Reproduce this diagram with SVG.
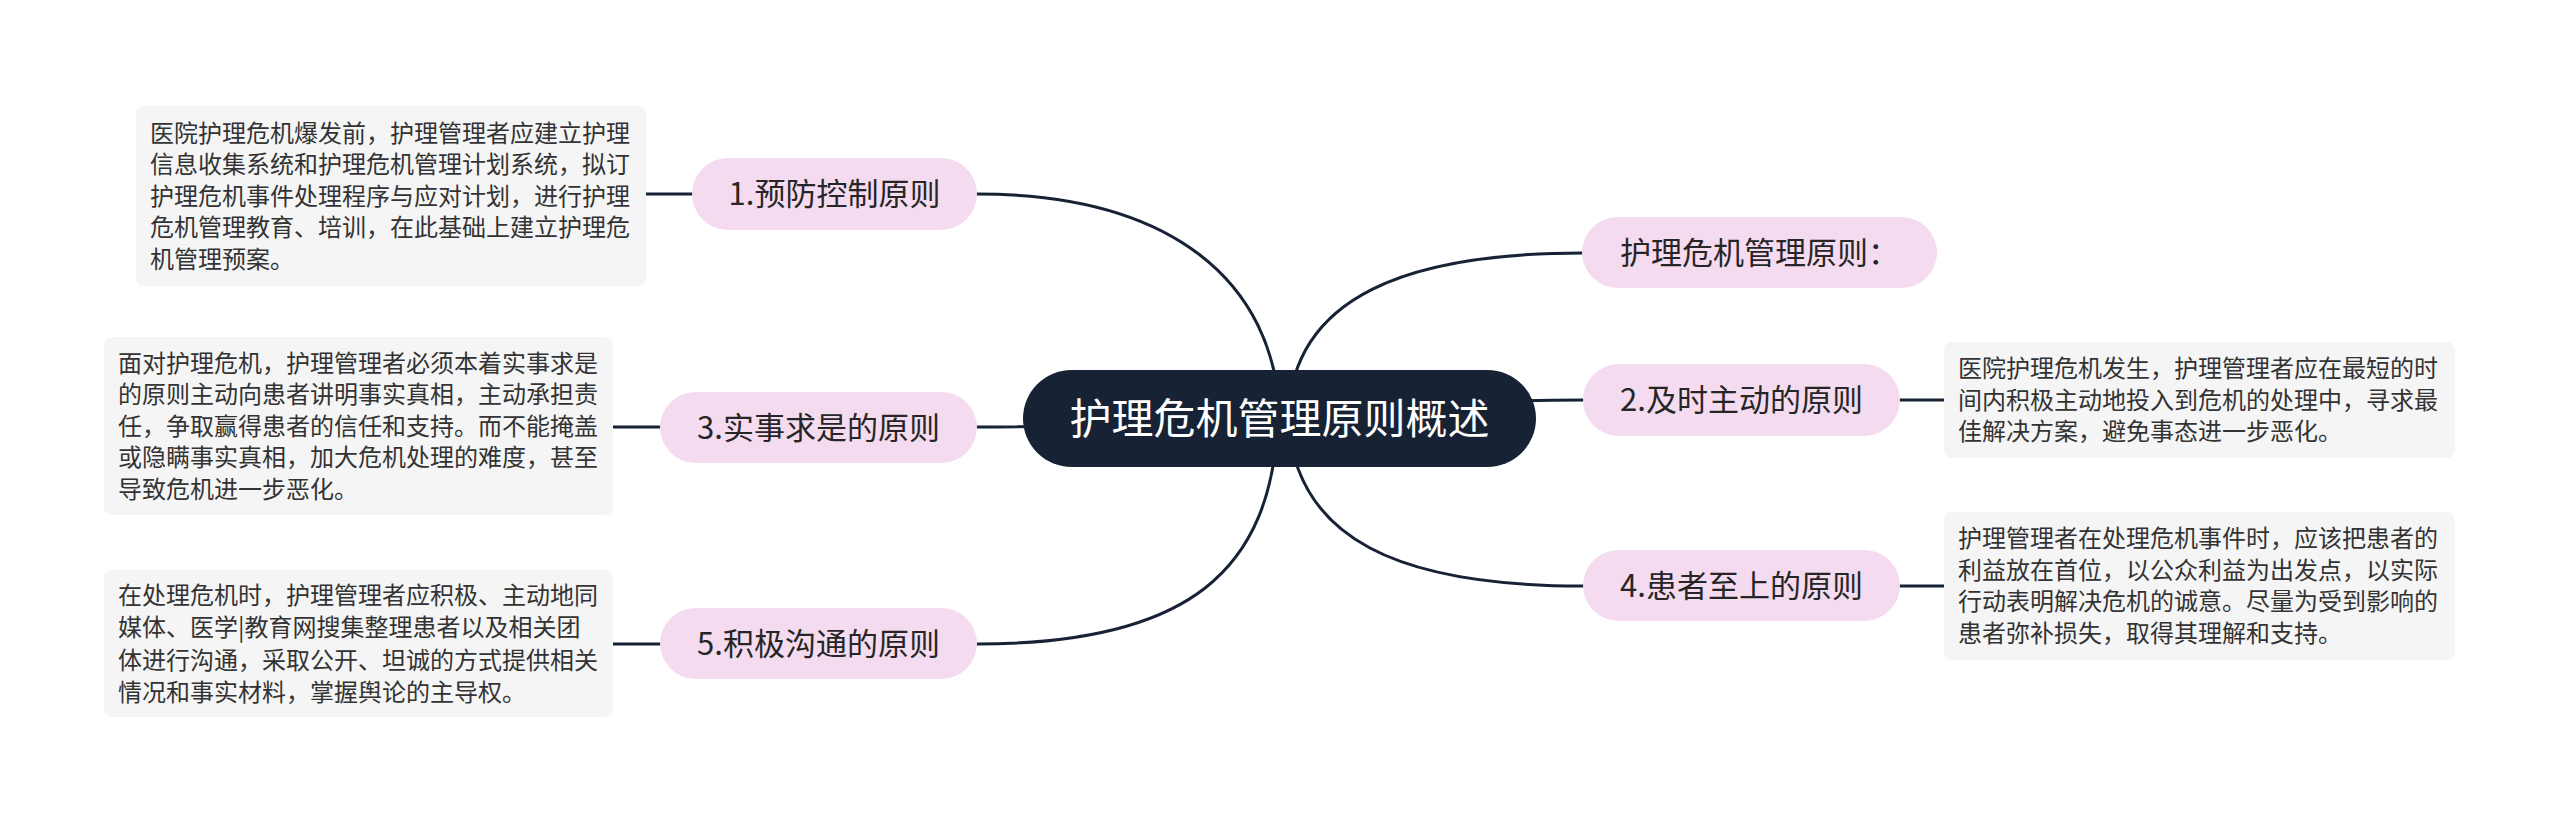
<svg xmlns="http://www.w3.org/2000/svg" width="2560" height="823" viewBox="0 0 2560 823">
<style>
.ln{fill:none;stroke:#172335;stroke-width:3;stroke-linecap:round}
.root{fill:#172335}
.rootT{fill:#ffffff;font-family:"Noto Sans CJK SC","Noto Sans",sans-serif;font-size:42px;text-anchor:middle}
.pill{fill:#f5dbef}
.pillT{fill:#262626;font-family:"Noto Sans CJK SC","Noto Sans",sans-serif;font-size:31px;text-anchor:middle}
.box{fill:#f5f5f5}
.boxT{fill:#333333;font-family:"Noto Sans CJK SC","Noto Sans",sans-serif;font-size:24px}
</style>
<rect width="2560" height="823" fill="#ffffff"/>
<g id="connectors">
<path class="ln" d="M977,194 C1170,194 1275,280 1280,418"/>
<path class="ln" d="M977,427 C1150,427 1200,418 1280,418"/>
<path class="ln" d="M977,644 C1190,644 1272,570 1278,418"/>
<path class="ln" d="M1583,253 C1410,253 1292,295 1288,418"/>
<path class="ln" d="M1583,400 C1400,400 1350,418 1280,418"/>
<path class="ln" d="M1583,586 C1400,586 1295,540 1288,418"/>
<path class="ln" d="M646,194 L692,194"/>
<path class="ln" d="M613,427 L660,427"/>
<path class="ln" d="M613,644 L660,644"/>
<path class="ln" d="M1900,400 L1944,400"/>
<path class="ln" d="M1900,586 L1944,586"/>
</g>
<g id="root">
<rect class="root" x="1023" y="370" width="513" height="97" rx="48.5"/>
<text class="rootT" x="1279.5" y="433.5">护理危机管理原则概述</text>
</g>
<g id="n1">
<rect class="pill" x="692" y="158" width="285" height="72" rx="36"/>
<text class="pillT" x="834.5" y="205">1.预防控制原则</text>
</g>
<g id="n3">
<rect class="pill" x="660" y="392" width="317" height="71" rx="35.5"/>
<text class="pillT" x="818.5" y="438.5">3.实事求是的原则</text>
</g>
<g id="n5">
<rect class="pill" x="660" y="608" width="317" height="71" rx="35.5"/>
<text class="pillT" x="818.5" y="654.5">5.积极沟通的原则</text>
</g>
<g id="nr">
<rect class="pill" x="1582" y="217" width="355" height="71" rx="35.5"/>
<text class="pillT" x="1759.5" y="263.5">护理危机管理原则：</text>
</g>
<g id="n2">
<rect class="pill" x="1583" y="364" width="317" height="72" rx="36"/>
<text class="pillT" x="1741.5" y="411">2.及时主动的原则</text>
</g>
<g id="n4">
<rect class="pill" x="1583" y="550" width="317" height="71" rx="35.5"/>
<text class="pillT" x="1741.5" y="596.5">4.患者至上的原则</text>
</g>
<g id="b1">
<rect class="box" x="136" y="106" width="510" height="180" rx="8"/>
<text class="boxT" x="150" y="141.5">医院护理危机爆发前，护理管理者应建立护理</text>
<text class="boxT" x="150" y="173">信息收集系统和护理危机管理计划系统，拟订</text>
<text class="boxT" x="150" y="204.5">护理危机事件处理程序与应对计划，进行护理</text>
<text class="boxT" x="150" y="236">危机管理教育、培训，在此基础上建立护理危</text>
<text class="boxT" x="150" y="267.5">机管理预案。</text>
</g>
<g id="b3">
<rect class="box" x="104" y="337" width="509" height="178" rx="8"/>
<text class="boxT" x="118" y="371.5">面对护理危机，护理管理者必须本着实事求是</text>
<text class="boxT" x="118" y="403">的原则主动向患者讲明事实真相，主动承担责</text>
<text class="boxT" x="118" y="434.5">任，争取赢得患者的信任和支持。而不能掩盖</text>
<text class="boxT" x="118" y="466">或隐瞒事实真相，加大危机处理的难度，甚至</text>
<text class="boxT" x="118" y="497.5">导致危机进一步恶化。</text>
</g>
<g id="b5">
<rect class="box" x="104" y="570" width="509" height="147" rx="8"/>
<text class="boxT" x="118" y="603.5">在处理危机时，护理管理者应积极、主动地同</text>
<text class="boxT" x="118" y="636">媒体、医学|教育网搜集整理患者以及相关团</text>
<text class="boxT" x="118" y="668.5">体进行沟通，采取公开、坦诚的方式提供相关</text>
<text class="boxT" x="118" y="701">情况和事实材料，掌握舆论的主导权。</text>
</g>
<g id="b2">
<rect class="box" x="1944" y="342" width="511" height="116" rx="8"/>
<text class="boxT" x="1958" y="377">医院护理危机发生，护理管理者应在最短的时</text>
<text class="boxT" x="1958" y="408.5">间内积极主动地投入到危机的处理中，寻求最</text>
<text class="boxT" x="1958" y="440">佳解决方案，避免事态进一步恶化。</text>
</g>
<g id="b4">
<rect class="box" x="1944" y="512" width="511" height="148" rx="8"/>
<text class="boxT" x="1958" y="547.25">护理管理者在处理危机事件时，应该把患者的</text>
<text class="boxT" x="1958" y="578.75">利益放在首位，以公众利益为出发点，以实际</text>
<text class="boxT" x="1958" y="610.25">行动表明解决危机的诚意。尽量为受到影响的</text>
<text class="boxT" x="1958" y="641.75">患者弥补损失，取得其理解和支持。</text>
</g>
</svg>
